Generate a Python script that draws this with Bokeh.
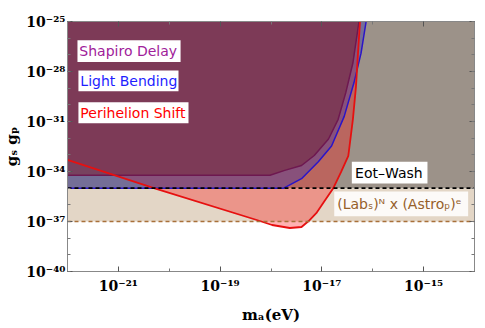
from bokeh.plotting import figure
from bokeh.models import (FixedTicker, CustomJSTickFormatter, LogAxis, Label, Range1d)
from bokeh.embed import file_html
from bokeh.resources import INLINE

# ---------------- data ----------------
x_ticks = [1e-21, 1e-19, 1e-17, 1e-15]
x_tick_labels = ["10⁻²¹", "10⁻¹⁹", "10⁻¹⁷", "10⁻¹⁵"]
x_minor = [1e-22, 1e-20, 1e-18, 1e-16, 1e-14]
y_ticks = [1e-40, 1e-37, 1e-34, 1e-31, 1e-28, 1e-25]
y_tick_labels = ["10⁻⁴⁰", "10⁻³⁷", "10⁻³⁴", "10⁻³¹", "10⁻²⁸", "10⁻²⁵"]
y_minor = [1e-40, 1e-39, 1e-38, 1e-37, 1e-36, 1e-35, 1e-34, 1e-33, 1e-32,
           1e-31, 1e-30, 1e-29, 1e-28, 1e-27, 1e-26, 1e-25]

x_min, x_max = 1e-22, 1e-14
y_min, y_max = 1e-40, 1e-25

eotwash_limit = 1e-35
labastro_limit = 1e-37

# Perihelion shift boundary
red_x = [1e-22, 5.37e-21, 5.25e-19, 1.05e-18, 2.34e-18, 3.98e-18, 5.50e-18,
         7.76e-18, 1.12e-17, 1.66e-17, 2.40e-17, 3.31e-17, 4.07e-17, 4.68e-17,
         5.13e-17, 5.62e-17]
red_y = [5.01e-34, 9.5e-36, 1.23e-37, 6.17e-38, 4.07e-38, 4.68e-38, 1.07e-37,
         3.16e-37, 1.62e-36, 9.5e-36, 9.77e-35, 8.71e-34, 1.35e-31, 1.23e-29,
         1.26e-27, 1e-25]

# Light bending boundary
blue_x = [1e-22, 1.78e-18, 3.98e-18, 8.51e-18, 1.55e-17, 2.75e-17, 4.27e-17,
          5.89e-17, 7.41e-17]
blue_y = [1e-35, 1e-35, 3.72e-35, 3.80e-34, 3.39e-33, 2.04e-31, 2.09e-29,
          1.26e-27, 1e-25]

# Shapiro delay boundary
purple_x = [1e-22, 9.55e-19, 1.86e-18, 3.98e-18, 7.08e-18, 1.35e-17, 2.09e-17,
            2.95e-17, 4.07e-17, 5.37e-17]
purple_y = [5.89e-35, 5.89e-35, 1.17e-34, 2.29e-34, 9.12e-34, 8.91e-33,
            1.35e-31, 5.37e-30, 3.24e-28, 1e-25]

# ---------------- figure ----------------
p = figure(width=484, height=326, x_axis_type="log", y_axis_type="log",
           x_range=Range1d(x_min, x_max), y_range=Range1d(y_min, y_max),
           output_backend="svg", toolbar_location=None,
           min_border_left=64, min_border_top=21, min_border_right=10,
           min_border_bottom=52)
p.grid.visible = False
p.outline_line_color = "#888888"
p.background_fill_color = "white"

# Lab x Astro band (beige) and Eot-Wash excluded region (grey)
p.quad(left=[x_min], right=[x_max], bottom=[labastro_limit], top=[eotwash_limit],
       fill_color="#E3D6C6", line_color=None)
p.quad(left=[x_min], right=[x_max], bottom=[eotwash_limit], top=[y_max],
       fill_color="#9C9289", line_color=None)

# excluded regions (translucent)
p.patch([x_min] + red_x, [y_max] + red_y, fill_color="#FF0000", fill_alpha=0.30,
        line_color=None)
p.patch([x_min] + blue_x, [y_max] + blue_y, fill_color="#2828B4", fill_alpha=0.34,
        line_color=None)
p.patch([x_min] + purple_x, [y_max] + purple_y, fill_color="#78324A", fill_alpha=0.72,
        line_color=None)

# boundaries
p.line(purple_x, purple_y, line_color="#6E1850", line_width=1.5)
p.line(blue_x, blue_y, line_color="#2A14C8", line_width=1.5)
p.line(red_x, red_y, line_color="#E61010", line_width=1.8)

p.line([x_min, x_max], [eotwash_limit, eotwash_limit], line_color="black",
       line_width=1.6, line_dash="4 3")
p.line([x_min, x_max], [labastro_limit, labastro_limit], line_color="#A8703A",
       line_width=1.4, line_dash="4 3")

# ---------------- axes ----------------
def fmt(tvals, tlabels):
    return CustomJSTickFormatter(args=dict(tvals=tvals, tlabels=tlabels), code="""
let best = 0, d = Infinity;
for (let i = 0; i < tvals.length; i++) {
  const di = Math.abs(Math.log10(tick) - Math.log10(tvals[i]));
  if (di < d) { d = di; best = i; }
}
return tlabels[best];
""")

xt = FixedTicker(ticks=x_ticks, minor_ticks=x_minor)
yt = FixedTicker(ticks=y_ticks, minor_ticks=y_minor)

for ax, t, f in ((p.xaxis[0], xt, fmt(x_ticks, x_tick_labels)),
                 (p.yaxis[0], yt, fmt(y_ticks, y_tick_labels))):
    ax.ticker = t
    ax.formatter = f
    ax.major_label_text_font = "DejaVu Serif"
    ax.major_label_text_font_style = "bold"
    ax.major_label_text_font_size = "14px"
    ax.major_label_text_color = "black"
    ax.axis_line_color = "#888888"
    ax.major_tick_line_color = "#555555"
    ax.minor_tick_line_color = "#777777"
    ax.major_tick_in = 5
    ax.major_tick_out = 0
    ax.minor_tick_in = 3
    ax.minor_tick_out = 0
    ax.axis_label_text_font = "DejaVu Serif"
    ax.axis_label_text_font_style = "bold"
    ax.axis_label_text_font_size = "15px"
    ax.axis_label_text_color = "black"

p.xaxis[0].axis_label = "mₐ(eV)"
p.xaxis[0].major_label_standoff = 6
p.xaxis[0].axis_label_standoff = 9
p.yaxis[0].axis_label = "gₛ gₚ"
p.yaxis[0].major_label_standoff = 2
p.yaxis[0].axis_label_standoff = 2

for loc, t in (("right", yt), ("above", xt)):
    ax = LogAxis(ticker=t)
    ax.major_label_text_font_size = "4px"
    ax.major_label_text_alpha = 0
    ax.major_label_standoff = 0
    ax.axis_line_color = "#888888"
    ax.major_tick_line_color = "#555555"
    ax.minor_tick_line_color = "#777777"
    ax.major_tick_in = 5
    ax.major_tick_out = 0
    ax.minor_tick_in = 3
    ax.minor_tick_out = 0
    p.add_layout(ax, loc)

# ---------------- label boxes and texts ----------------
def box(l, r, b, t, alpha=1.0):
    p.quad(left=[l], right=[r], bottom=[b], top=[t], fill_color="white",
           fill_alpha=alpha, line_color=None)

def lab(x, y, text, color):
    p.add_layout(Label(x=x, y=y, text=text, text_font="DejaVu Sans",
                       text_font_size="14px", text_color=color,
                       text_baseline="middle", text_align="left"))

box(1.57e-22, 1.67e-20, 3.72e-28, 7.48e-27)
lab(1.71e-22, 1.67e-27, "Shapiro Delay", "#A0209A")
box(1.64e-22, 1.52e-20, 6.44e-30, 1.13e-28)
lab(1.79e-22, 2.70e-29, "Light Bending", "#1E1EFF")
box(1.64e-22, 2.39e-20, 7.83e-32, 1.44e-30)
lab(1.79e-22, 3.33e-31, "Perihelion Shift", "#FF0000")
box(3.88e-17, 1.19e-15, 1.90e-35, 3.83e-34)
lab(4.50e-17, 8.53e-35, "Eot–Wash", "black")
box(1.75e-17, 7.50e-15, 2.10e-37, 6.37e-36, 0.88)
lab(2.00e-17, 1.16e-36, "(Labₛ)ᴺ x (Astroₚ)ᵉ", "#96602A")

open("out.html", "w").write(file_html(p, INLINE))
